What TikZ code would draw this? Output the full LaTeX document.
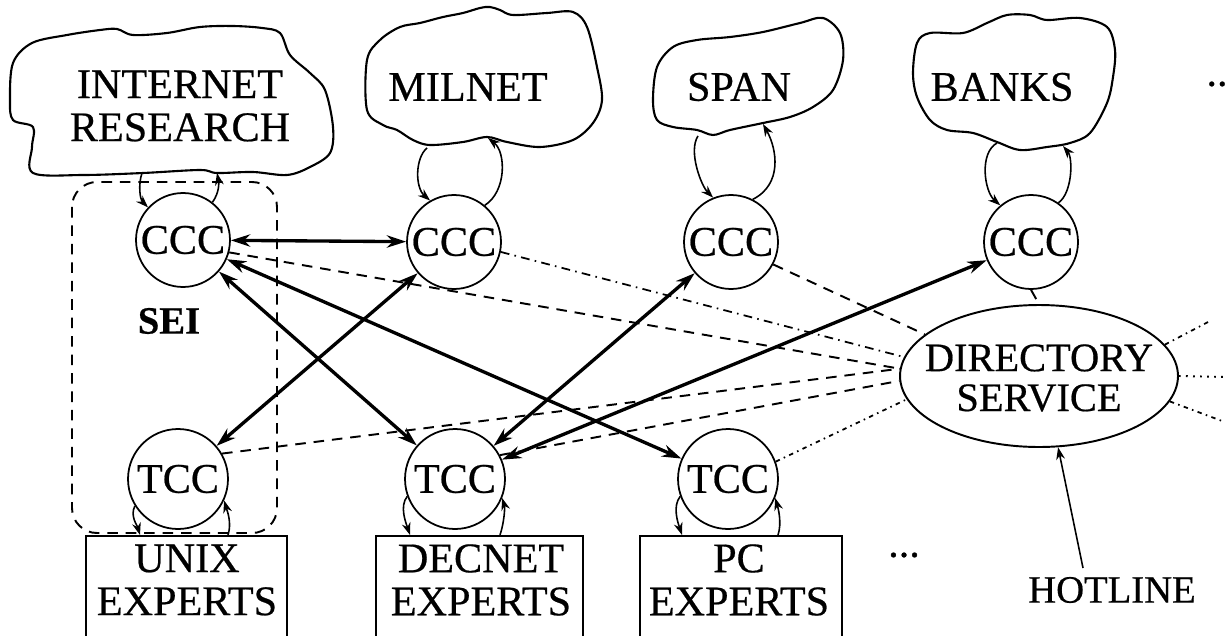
\documentclass[tikz,border=0pt]{standalone}
\usepackage{fontspec}
\setmainfont{Liberation Serif}[FakeBold=0.5]
\usetikzlibrary{arrows.meta,shapes.geometric}
\begin{document}
\begin{tikzpicture}[x=0.02cm,y=-0.02cm,
  lbl/.style={font=\fontsize{24}{24.5}\selectfont, align=center, inner sep=0pt},
  ccc/.style={draw, circle, line width=1pt, fill=white, minimum size=1.88cm, inner sep=0pt, font=\fontsize{24}{24}\selectfont},
  tcc/.style={ccc, minimum size=2cm},
  cloudline/.style={line width=1.2pt},
  xbox/.style={draw, line width=1pt, rectangle, minimum height=2.4cm, anchor=north, inner sep=0pt},
  big/.style={{Stealth[length=11pt,width=7pt]}-{Stealth[length=11pt,width=7pt]}, line width=1.9pt},
  loopar/.style={-{Stealth[length=7pt,width=5pt]}, line width=0.9pt},
  dsh/.style={line width=1.1pt, dash pattern=on 6pt off 4.5pt},
  dshdot/.style={line width=1pt, dash pattern=on 5pt off 3pt on 0.9pt off 3pt},
  dtd/.style={line width=1pt, dash pattern=on 2.5pt off 2.5pt on 0.9pt off 2.5pt},
  dots/.style={line width=1.1pt, dash pattern=on 1pt off 3pt},
]
\useasboundingbox (0,0) rectangle (1226,635);

% clouds
\draw[cloudline] plot[smooth cycle, tension=0.55] coordinates {(32,43) (67,35) (100,30) (117,29) (133,35) (167,33) (200,27) (233,26) (262,28) (280,33) (290,55) (310,73) (325,90) (333,127) (330,153) (310,167) (287,175) (253,172) (217,173) (200,170) (143,173) (83,175) (33,173) (32,147) (33,127) (13,120) (10,100) (13,63)};
\draw[cloudline] plot[smooth cycle, tension=0.55] coordinates {(367,60) (380,40) (400,27) (420,23) (443,17) (463,13) (480,8) (490,7) (500,10) (513,15) (547,13) (573,12) (587,27) (597,67) (602,100) (593,123) (573,140) (540,147) (507,142) (487,137) (463,142) (430,145) (413,140) (397,130) (383,125) (367,110)};
\draw[cloudline] plot[smooth cycle, tension=0.55] coordinates {(653,100) (657,67) (673,47) (697,40) (730,37) (763,32) (800,23) (823,18) (840,33) (843,60) (833,90) (813,107) (790,117) (763,123) (730,130) (713,135) (697,130) (673,127) (657,120)};
\draw[cloudline] plot[smooth cycle, tension=0.55] coordinates {(913,73) (917,43) (930,33) (963,33) (987,23) (1007,15) (1030,15) (1047,20) (1080,18) (1107,27) (1115,50) (1113,77) (1107,103) (1090,133) (1070,143) (1047,147) (1020,150) (997,142) (973,133) (947,130) (930,120) (917,97)};

\node[lbl] (inet) at (180,106) {INTERNET\\RESEARCH};
\node[lbl] (milnet) at (468,87) {MILNET};
\node[lbl] (span) at (739,87) {SPAN};
\node[lbl] (banks) at (1002,87) {BANKS};
\node[lbl] (more1) at (1217,84) {..};

\coordinate (inetL) at (142,173);
\coordinate (inetR) at (217,173);
\coordinate (milL) at (427,148);
\coordinate (milR) at (488,138);
\coordinate (spanL) at (698,136);
\coordinate (spanR) at (763,124);
\coordinate (bankL) at (997,143);
\coordinate (bankR) at (1063,146);

% SEI dashed region
\draw[dsh, rounded corners=0.5cm] (72,182) rectangle (277,533);
\node[font=\bfseries\fontsize{22}{22}\selectfont, inner sep=0pt] (sei) at (169,321) {SEI};

% circles
\node[ccc] (ccc1) at (183,240) {CCC};
\node[ccc] (ccc2) at (454,242) {CCC};
\node[ccc] (ccc3) at (731,242) {CCC};
\node[ccc] (ccc4) at (1031,242) {CCC};
\node[tcc] (tcc1) at (178,479) {TCC};
\node[tcc] (tcc2) at (455,479) {TCC};
\node[tcc] (tcc3) at (728,479) {TCC};

% expert boxes
\node[xbox, minimum width=4.02cm] (unix) at (186.5,535) {};
\node[lbl] (unixt) at (187,580) {UNIX\\EXPERTS};
\node[xbox, minimum width=4.14cm] (decnet) at (479.5,535) {};
\node[lbl] (decnett) at (481,580) {DECNET\\EXPERTS};
\node[xbox, minimum width=4.04cm] (pc) at (741,535) {};
\node[lbl] (pct) at (739,580) {PC\\EXPERTS};
\node[lbl] (more2) at (904,555) {...};

% directory service
\node[draw, ellipse, line width=1.1pt, minimum width=5.56cm, minimum height=2.84cm, inner sep=0pt] (ds) at (1039,376) {};
\node[font=\fontsize{23}{22.7}\selectfont, align=center, inner sep=0pt] (dst) at (1039,378) {DIRECTORY\\SERVICE};
\node[font=\fontsize{22}{22}\selectfont, inner sep=0pt] (hot) at (1112,590) {HOTLINE};
\coordinate (hl) at (1083,568);
\coordinate (e1) at (1210,321);
\coordinate (e2) at (1226,377);
\coordinate (e3) at (1222,421);

% lines to directory service
\draw[dsh] (ccc1.-15) -- (ds.177);
\draw[dshdot] (ccc2.-12) -- (ds.172);
\draw[dsh] (ccc3.-28) -- (ds.160);
\draw[dsh] (ccc4.south) -- (ds.north);
\draw[dsh] (tcc1.30) -- (ds.177);
\draw[dsh] (tcc2.28) -- (ds.182);
\draw[dtd] (tcc3.20) -- (ds.190);
\draw[dtd] (ds.14) -- (e1);
\draw[dots] (ds.east) -- (e2);
\draw[dtd] (ds.-11) -- (e3);
\draw[loopar] (hl) -- (ds.-75);

% thick double arrows
\draw[big] (ccc1) -- (ccc2);
\draw[big] (ccc1) -- (tcc2);
\draw[big] (ccc1) -- (tcc3);
\draw[big] (ccc2) -- (tcc1);
\draw[big] (ccc3) -- (tcc2);
\draw[big] (ccc4) -- (tcc2);

% cloud loops
\draw[loopar] (inetL) .. controls +(-4,12) and +(-8,-8) .. (ccc1.137);
\draw[loopar] (ccc1.52) .. controls +(7,-10) and +(2,10) .. (inetR);
\draw[loopar] (milL) .. controls +(-12,10) and +(-15,-13) .. (ccc2.120);
\draw[loopar] (ccc2.50) .. controls +(22,-14) and +(18,14) .. (milR);
\draw[loopar] (spanL) .. controls +(-10,15) and +(-12,-12) .. (ccc3.112);
\draw[loopar] (ccc3.63) .. controls +(30,-15) and +(14,25) .. (spanR);
\draw[loopar] (bankL) .. controls +(-18,10) and +(-16,-14) .. (ccc4.130);
\draw[loopar] (ccc4.55) .. controls +(14,-10) and +(10,12) .. (bankR);

% box loops
\coordinate (u1) at (140,535);
\coordinate (u2) at (228,535);
\coordinate (d1) at (410,535);
\coordinate (d2) at (500,535);
\coordinate (p1) at (682,535);
\coordinate (p2) at (778,535);
\draw[loopar] (tcc1.212) .. controls +(-5,10) and +(-3,-10) .. (u1);
\draw[loopar] (u2) .. controls +(4,-12) and +(3,10) .. (tcc1.-25);
\draw[loopar] (tcc2.200) .. controls +(-8,10) and +(-4,-12) .. (d1);
\draw[loopar] (d2) .. controls +(4,-12) and +(3,10) .. (tcc2.-22);
\draw[loopar] (tcc3.200) .. controls +(-8,10) and +(-4,-12) .. (p1);
\draw[loopar] (p2) .. controls +(4,-12) and +(3,10) .. (tcc3.-22);
\end{tikzpicture}
\end{document}
